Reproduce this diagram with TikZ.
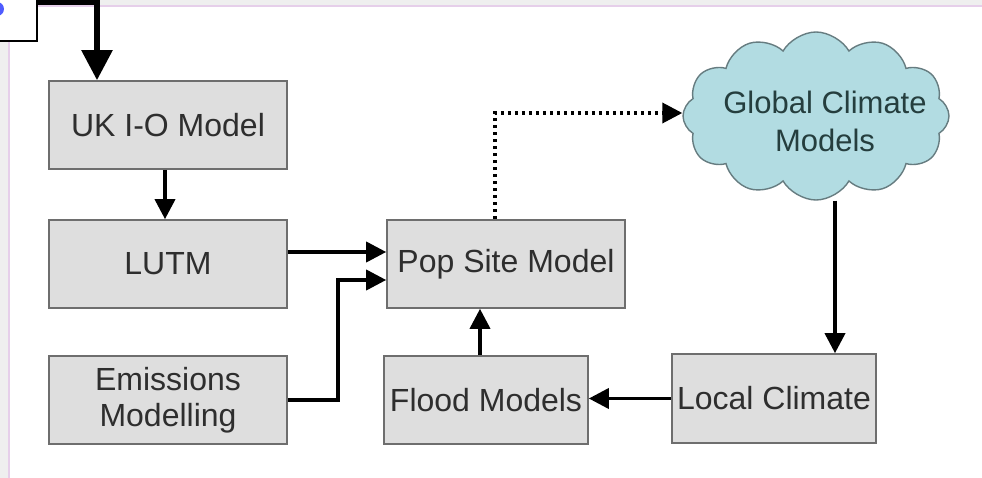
\documentclass[tikz,border=0pt]{standalone}
\usepackage{fontspec}
\setmainfont{Liberation Sans}
\usepackage{tikz}
\usetikzlibrary{arrows.meta,shapes.symbols}
\definecolor{boxfill}{HTML}{DEDEDE}
\definecolor{boxline}{HTML}{6E6E6E}
\definecolor{txt}{HTML}{2E2E2E}
\definecolor{cloudfill}{HTML}{B2DCE2}
\definecolor{cloudline}{HTML}{667C80}
\definecolor{edge}{HTML}{EFEFEF}
\definecolor{lav}{HTML}{E6CFEA}
\definecolor{blob}{HTML}{4F5CFF}

\tikzset{
  model/.style={draw=boxline, fill=boxfill, line width=1.6pt, text=txt,
    minimum height=88pt, inner sep=0pt, align=center,
    font=\fontsize{32}{36}\selectfont},
  conn/.style={line width=3.6pt, -{Triangle[length=20pt, width=20pt]}}
}

\begin{document}
\begin{tikzpicture}[x=1pt, y=-1pt]
	\useasboundingbox (0, 0) rectangle (982, 478);
	\fill [white] (0, 0) rectangle (982, 478);
	% frame of the slide
	\fill [edge] (0, 0) rectangle (8, 478);
	\fill [edge] (0, 0) rectangle (982, 5);
	\draw [lav, line width=1.5pt] (37, 6) -- (982, 6);
	\draw [lav, line width=1.5pt] (9, 41) -- (9, 478);
	\node [draw=black, fill=white, line width=2.6pt, minimum width=47pt, minimum height=46pt, inner sep=0pt] (prev) at (13.5, 18) {};
	\fill [blob] (-3, 9) circle (7);

	% boxes
	\node [model, minimum width=238pt] (ukio) at (168, 125) {UK I-O Model};
	\node [model, minimum width=238pt] (lutm) at (168, 264) {LUTM};
	\node [model, minimum width=238pt] (emis) at (168, 400) {Emissions\\Modelling};
	\node [model, minimum width=238pt] (pop) at (506, 264) {Pop Site Model};
	\node [model, minimum width=204pt] (flood) at (486, 400) {Flood Models};
	\node [model, minimum width=204pt, minimum height=89pt] (lclim) at (774, 398.5) {Local Climate};
	\node [cloud, cloud puffs=12, cloud puff arc=120, draw=cloudline, fill=cloudfill, line width=1.4pt,
		minimum width=266pt, minimum height=168pt, inner sep=0pt] (gcm) at (816, 116) {};
	\node [text=txt!80!teal, align=center, font=\fontsize{31}{38}\selectfont] (gcmtext) at (825, 121) {Global Climate\\Models};

	% links
	\draw [line width=5.5pt, -{Triangle[length=30pt, width=30pt]}] (prev.east |- 0, 2) -| ([xshift=-71pt]ukio.north);
	\draw [conn] ([xshift=-3pt]ukio.south) -- ([xshift=-3pt]lutm.north);
	\draw [conn] ([yshift=12pt]lutm.east) -- ([yshift=12pt]lutm.east -| pop.west);
	\draw [conn] (emis.east) -- ++(50, 0) |- ([yshift=-16pt]pop.west);
	\draw [conn] ([xshift=-6pt]flood.north) -- ([xshift=-6pt]flood.north |- pop.south);
	\draw [conn] (lclim.west) -- (lclim.west -| flood.east);
	\draw [conn] ([xshift=19pt]gcm.south) -- ([xshift=61pt]lclim.north);
	\draw [line width=3.6pt, dash pattern=on 3.5pt off 3.5pt, -{Triangle[length=20pt, width=20pt]}] ([xshift=-11pt]pop.north) |- ([yshift=3pt]gcm.west);
\end{tikzpicture}
\end{document}
